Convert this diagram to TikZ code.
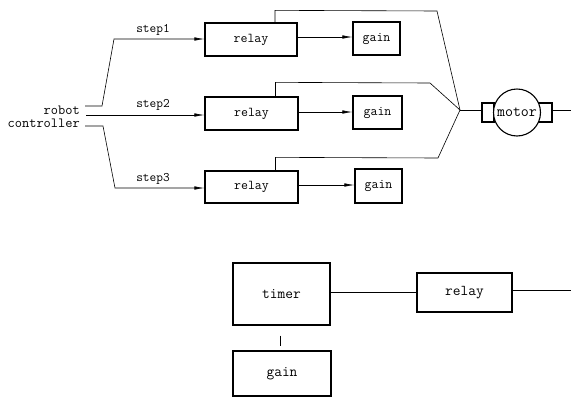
\documentclass[tikz,border=0pt]{standalone}
\usepackage{fontspec}
\usetikzlibrary{arrows.meta,calc}
\newcommand{\tsize}[1]{\ttfamily\fontsize{#1}{#1}\selectfont}
\begin{document}
\begin{tikzpicture}[x=1pt,y=-1pt,
  every node/.style={font=\tsize{13.5}},
  blk/.style={draw,line width=1.3pt,inner sep=0pt,minimum width=#1},
  wire/.style={line width=0.6pt},
  feed/.style={line width=0.6pt},
  sig/.style={line width=0.6pt,-{Latex[length=10pt,width=3.5pt]}},
  lbl/.style={inner sep=1pt,font=\tsize{13}},
  big/.style={font=\tsize{15}}
]
\useasboundingbox (0,0) rectangle (571,397);

% controller and its three step outputs
\node[inner sep=1pt,align=right,anchor=east,font=\tsize{14}] (ctrl) at (81,116.5) {robot\\[-1pt]controller};
\coordinate (o1) at (85,106);
\coordinate (o2) at (86,115);
\coordinate (o3) at (85,126);

% relay stages
\node[blk=92pt,minimum height=33pt] (r1) at (251,39.5) {relay};
\node[blk=93pt,minimum height=33pt] (r2) at (251.5,113.5) {relay};
\node[blk=93pt,minimum height=32pt] (r3) at (251.5,187) {relay};

% gain stages
\node[blk=47pt,minimum height=33pt] (g1) at (376.5,38.5) {gain};
\node[blk=49pt,minimum height=33pt] (g2) at (377.5,112.5) {gain};
\node[blk=47pt,minimum height=34pt] (g3) at (378.5,186) {gain};

% step lines into the relays
\draw[sig] (o1) -- (102,106) -- (114,39) -- (r1.west |- 0,39);
\draw[sig] (o2) -- (r2.west |- 0,115);
\draw[sig] (o3) -- (103,126) -- (115,188) -- (r3.west |- 0,188);
\node[lbl] (s1) at (153,30) {step1};
\node[lbl] (s2) at (153,105) {step2};
\node[lbl] (s3) at (153,179) {step3};

% relay to gain
\draw[sig] (r1.east |- 0,37) -- (g1.west |- 0,37);
\draw[sig] (r2.east |- 0,112) -- (g2.west |- 0,112);
\draw[sig] (r3.east |- 0,185) -- (g3.west |- 0,185);

% motor with its terminals
\coordinate (j) at (460,110);
\node[draw,line width=1.2pt,minimum width=12pt,minimum height=19pt,inner sep=0pt] (ml) at (488,112.5) {};
\node[draw,line width=1.2pt,minimum width=14pt,minimum height=19pt,inner sep=0pt] (mr) at (545,112.5) {};
\node[circle,draw,line width=1.1pt,fill=white,minimum size=47pt,inner sep=0pt,
      font=\tsize{15.5}] (motor) at (517,112.5) {motor};
\coordinate (mout) at (571,110);

% relay outputs merging at the motor
\draw[feed] ([xshift=24pt]r1.north) -- ++(0,-12) -- (437,11) -- (j);
\draw[feed] ([xshift=24pt]r2.north) -- ++(0,-14) -- (430,83) -- (j);
\draw[feed] ([xshift=24pt]r3.north) -- ++(0,-13) -- (438,158) -- (j);
\draw[wire] (j) -- (ml.west |- j);
\draw[wire] (mr.east |- mout) -- (mout);

% timer section
\node[blk=97pt,minimum height=62pt,big] (timer) at (281.5,294) {timer};
\node[blk=95pt,minimum height=39pt,big] (r4) at (464.5,292.5) {relay};
\node[blk=98pt,minimum height=45pt,big] (g4) at (282,373.5) {gain};
\coordinate (tout) at (571,290);
\draw[wire] (timer.east |- 0,292) -- (r4.west |- 0,292);
\draw[wire] (r4.east |- tout) -- (tout);
\draw[wire,shorten <=10pt,shorten >=4pt] ([xshift=-1.5pt]timer.south) -- ([xshift=-2pt]g4.north);
\end{tikzpicture}
\end{document}
